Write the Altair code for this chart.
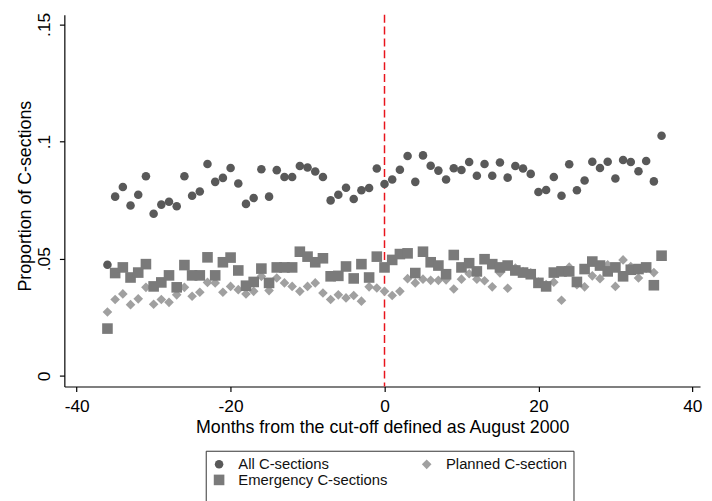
import altair as alt
import pandas as pd

months = list(range(-36, 37))

all_cs = [0.0474, 0.0765, 0.0806, 0.0727, 0.0773, 0.0852, 0.0692, 0.0731, 0.0743, 0.0724,
          0.0852, 0.0769, 0.0787, 0.0904, 0.0828, 0.0845, 0.0887, 0.0821, 0.0734, 0.0759,
          0.0882, 0.0765, 0.0878, 0.0849, 0.0849, 0.0896, 0.0889, 0.0872, 0.0849, 0.0749,
          0.0773, 0.0803, 0.0755, 0.0792, 0.0802, 0.0885, 0.0819, 0.0838, 0.0880, 0.0938,
          0.0828, 0.0941, 0.0897, 0.0876, 0.0838, 0.0886, 0.0879, 0.0913, 0.0854, 0.0904,
          0.0854, 0.0911, 0.0846, 0.0896, 0.0885, 0.0862, 0.0785, 0.0793, 0.0849, 0.0769,
          0.0903, 0.0792, 0.0834, 0.0914, 0.0887, 0.0914, 0.0842, 0.0921, 0.0913, 0.0873,
          0.0917, 0.0830, 0.1025]

emergency_cs = [0.0202, 0.0439, 0.0463, 0.0420, 0.0441, 0.0477, 0.0382, 0.0399, 0.0429, 0.0378,
                0.0473, 0.0429, 0.0429, 0.0506, 0.0429, 0.0485, 0.0505, 0.0450, 0.0385, 0.0401,
                0.0458, 0.0397, 0.0463, 0.0463, 0.0463, 0.0530, 0.0509, 0.0485, 0.0502, 0.0425,
                0.0427, 0.0467, 0.0416, 0.0477, 0.0420, 0.0509, 0.0463, 0.0495, 0.0520, 0.0523,
                0.0439, 0.0530, 0.0485, 0.0471, 0.0434, 0.0516, 0.0463, 0.0481, 0.0446, 0.0498,
                0.0477, 0.0463, 0.0471, 0.0450, 0.0441, 0.0434, 0.0397, 0.0382, 0.0441, 0.0446,
                0.0446, 0.0401, 0.0456, 0.0488, 0.0471, 0.0446, 0.0463, 0.0425, 0.0453, 0.0456,
                0.0463, 0.0387, 0.0513]

planned_cs = [0.0273, 0.0326, 0.0350, 0.0304, 0.0329, 0.0378, 0.0306, 0.0326, 0.0314, 0.0346,
              0.0378, 0.0340, 0.0357, 0.0399, 0.0397, 0.0357, 0.0382, 0.0368, 0.0350, 0.0361,
              0.0425, 0.0364, 0.0418, 0.0397, 0.0382, 0.0361, 0.0382, 0.0397, 0.0354, 0.0326,
              0.0346, 0.0333, 0.0343, 0.0319, 0.0380, 0.0375, 0.0361, 0.0343, 0.0361, 0.0415,
              0.0397, 0.0413, 0.0408, 0.0408, 0.0410, 0.0371, 0.0413, 0.0436, 0.0413, 0.0406,
              0.0380, 0.0440, 0.0374, 0.0460, 0.0445, 0.0440, 0.0400, 0.0390, 0.0400, 0.0323,
              0.0464, 0.0389, 0.0380, 0.0427, 0.0415, 0.0474, 0.0382, 0.0495, 0.0467, 0.0418,
              0.0460, 0.0441, 0.0513]

series_names = ["All C-sections", "Planned C-section", "Emergency C-sections"]
series_colors = ["#595959", "#a0a0a0", "#7a7a7a"]
series_shapes = ["circle", "diamond", "square"]
series_sizes = [75, 115, 85]
legend_order = ["All C-sections", "Emergency C-sections", "Planned C-section"]

x_ticks = [-40, -20, 0, 20, 40]
y_ticks = [0, 0.05, 0.1, 0.15]
cutoff = [0]

rows = []
for name, vals in zip(series_names, [all_cs, planned_cs, emergency_cs]):
    for m, v in zip(months, vals):
        rows.append({"month": m, "value": v, "series": name})
df = pd.DataFrame(rows)

FONT = "Liberation Sans"

x_enc = alt.X("month:Q",
              scale=alt.Scale(domain=[-41.6, 41.0], nice=False, zero=False),
              axis=alt.Axis(values=x_ticks, title="Months from the cut-off defined as August 2000",
                            labelExpr="'' + datum.value",
                            titleY=46.5, titleBaseline="alphabetic", labelPadding=6))

y_enc = alt.Y("value:Q",
              scale=alt.Scale(domain=[-0.0045, 0.1541], nice=False, zero=False),
              axis=alt.Axis(values=y_ticks, title="Proportion of C-sections",
                            labelExpr="datum.value == 0 ? '0' : substring(format(datum.value, '.2~f'), 1)",
                            labelAngle=270, labelAlign="center", labelBaseline="bottom",
                            labelPadding=6.5,
                            titleAngle=270, titleX=-34, titleY=183, titleAlign="center",
                            titleBaseline="alphabetic"))

leg = alt.Legend(orient="none", legendX=143, legendY=441, columns=2, columnPadding=32,
                 values=legend_order,
                 rowPadding=0, padding=6, labelOffset=12, labelFontSize=15, labelFont=FONT,
                 labelColor="#111111", symbolSize=75, symbolStrokeWidth=0, symbolOpacity=1,
                 strokeColor="#333333", fillColor="white",
                 title=" ", titleOrient="bottom", titleFontSize=15, titlePadding=10)

points = alt.Chart(df).mark_point(filled=True, opacity=1, strokeWidth=0).encode(
    x=x_enc,
    y=y_enc,
    color=alt.Color("series:N", scale=alt.Scale(domain=series_names, range=series_colors), legend=leg),
    shape=alt.Shape("series:N", scale=alt.Scale(domain=series_names, range=series_shapes), legend=leg),
    size=alt.Size("series:N", scale=alt.Scale(domain=series_names, range=series_sizes), legend=None),
)

rule = alt.Chart(pd.DataFrame({"c": cutoff})).mark_rule(
    color="#e8141c", strokeDash=[8, 4], strokeWidth=1.5
).encode(x=alt.X("c:Q"))

chart = alt.layer(rule, points).properties(
    width=643, height=376,
    autosize=alt.AutoSizeParams(type="none"),
    padding={"left": 57, "top": 4, "right": 4, "bottom": 113},
).configure(font=FONT, background="white").configure_view(strokeWidth=0).configure_axis(
    grid=False, domainColor="black", tickColor="black", tickSize=5, domainWidth=1.2,
    tickWidth=1.2, labelFont=FONT, labelFontSize=17.5, labelColor="black",
    titleFont=FONT, titleFontSize=18, titleFontWeight="normal", titleColor="black",
)

chart.save("out.html", embed_options={"renderer": "svg", "actions": False})
